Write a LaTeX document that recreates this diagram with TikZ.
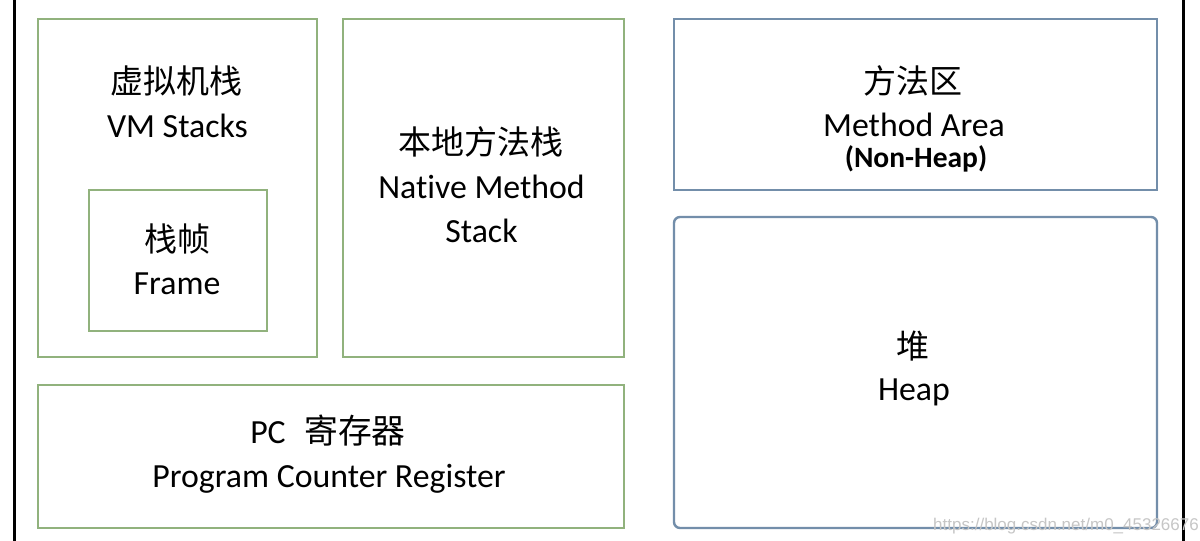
\documentclass[tikz,border=0pt]{standalone}
\usepackage{fontspec}
\setmainfont[Ligatures={NoCommon}]{Carlito}
\newfontfamily\cjk{Noto Sans CJK SC}
\newfontfamily\wmfont{Liberation Sans}
\definecolor{gline}{RGB}{145,178,125}
\definecolor{bline}{RGB}{115,142,170}
\begin{document}
\begin{tikzpicture}[x=1pt,y=-1pt,
  gbox/.style={draw=gline,line width=2.6pt,inner sep=0pt},
  bbox/.style={draw=bline,line width=2.4pt,inner sep=0pt},
  en/.style={anchor=base,inner sep=0pt,font=\fontsize{33.8}{38}\selectfont},
  cn/.style={anchor=base,inner sep=0pt,font=\fontsize{33}{38}\selectfont\cjk},
  enb/.style={anchor=base,inner sep=0pt,font=\fontsize{29.5}{32}\selectfont\bfseries},
  edge/.style={line width=3pt,black}]
\useasboundingbox (0,0) rectangle (1200,541);
\fill[white] (0,0) rectangle (1200,541);
% outer edges
\coordinate (lt) at (14,0); \coordinate (lb) at (14,541);
\coordinate (rt) at (1183,0); \coordinate (rb) at (1183,541);
\draw[edge] (lt) -- (lb);
\draw[edge] (rt) -- (rb);
% boxes
\node[gbox,minimum width=279pt,minimum height=338pt] (vm) at (177.5,188) {};
\node[gbox,minimum width=178pt,minimum height=141pt] (frame) at (178,260.5) {};
\node[gbox,minimum width=281pt,minimum height=338pt] (native) at (483.5,188) {};
\node[gbox,minimum width=586pt,minimum height=143pt] (pc) at (331,456.5) {};
\node[bbox,minimum width=483pt,minimum height=171pt] (method) at (915.5,104.5) {};
\node[bbox,rounded corners=6pt,minimum width=483pt,minimum height=311pt] (heap) at (915.5,372.5) {};
% texts
\node[cn] (vmcn) at (176,93) {虚拟机栈};
\node[en] (vmen) at (177.5,137) {VM Stacks};
\node[cn] (frcn) at (177,251) {栈帧};
\node[en] (fren) at (177,294) {Frame};
\node[cn] (nacn) at (481,154) {本地方法栈};
\node[en] (naen1) at (481.5,198) {Native Method};
\node[en] (naen2) at (481.5,242) {Stack};
\node[en] (pccn) at (328,443) {PC\hspace{0.55em}{\cjk 寄存器}};
\node[en] (pcen) at (329,487) {Program Counter Register};
\node[cn] (mecn) at (913,93) {方法区};
\node[en] (meen) at (914,136) {Method Area};
\node[enb] (menh) at (916,167) {(Non-Heap)};
\node[cn] (hpcn) at (913,358) {堆};
\node[en] (hpen) at (914,400) {Heap};
% watermark
\node[anchor=base,inner sep=0pt,text=gray!45,font=\fontsize{17}{20}\selectfont\wmfont] (wm) at (1066,530) {https://blog.csdn.net/m0\_45326676};
\end{tikzpicture}
\end{document}
